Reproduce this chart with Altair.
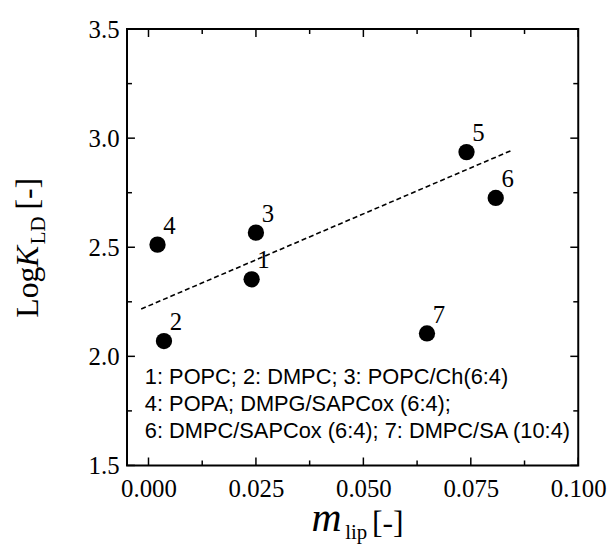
import altair as alt
import pandas as pd

# ---- data ----
point_ids = ["1", "2", "3", "4", "5", "6", "7"]
m_lip = [0.0240, 0.0036, 0.0250, 0.0021, 0.0740, 0.0808, 0.0648]
log_kld = [2.353, 2.070, 2.567, 2.512, 2.936, 2.726, 2.105]

fit_x = [-0.0017, 0.0845]
fit_y = [2.217, 2.944]

legend_lines = [
    "1: POPC; 2: DMPC; 3: POPC/Ch(6:4)",
    "4: POPA; DMPG/SAPCox (6:4);",
    "6: DMPC/SAPCox (6:4); 7: DMPC/SA (10:4)",
]

x_major = [0.0, 0.025, 0.05, 0.075, 0.1]
x_minor = [0.0125, 0.0375, 0.0625, 0.0875]
y_major = [1.5, 2.0, 2.5, 3.0, 3.5]
y_minor = [1.75, 2.25, 2.75, 3.25]

# ---- layout ----
W, H = 455, 440
SERIF = "Liberation Serif"
SANS = "Liberation Sans"

xs = alt.Scale(domain=[-0.005, 0.1], nice=False, zero=False)
ys = alt.Scale(domain=[1.5, 3.5], nice=False, zero=False)

pts = pd.DataFrame({"id": point_ids, "x": m_lip, "y": log_kld})
fit = pd.DataFrame({"x": fit_x, "y": fit_y})

x_axis = alt.Axis(values=x_major, format=".3f", title=None, ticks=False, domain=False,
                  grid=False, labelFont=SERIF, labelFontSize=25, labelPadding=11,
                  labelColor="black", labelFlush=False, labelOverlap=False)
y_axis = alt.Axis(values=y_major, format=".1f", title=None, ticks=False, domain=False,
                  grid=False, labelFont=SERIF, labelFontSize=25, labelPadding=8,
                  labelColor="black", labelFlush=False, labelOverlap=False)


def X(field):
    return alt.X(field, scale=xs, axis=x_axis)


def Y(field):
    return alt.Y(field, scale=ys, axis=y_axis)


points = alt.Chart(pts).mark_circle(size=270, color="black", opacity=1).encode(
    x=X("x:Q"), y=Y("y:Q"),
)

point_labels = alt.Chart(pts).mark_text(
    font=SERIF, fontSize=25, color="black", dx=12, dy=-19, align="center", baseline="middle"
).encode(x=X("x:Q"), y=Y("y:Q"), text="id:N")

fit_line = alt.Chart(fit).mark_line(color="black", strokeWidth=1.6, strokeDash=[5, 3]).encode(
    x=X("x:Q"), y=Y("y:Q")
)


def xticks(vals, length):
    d = pd.DataFrame({"x": vals})
    bottom = alt.Chart(d).mark_rule(color="black", strokeWidth=1.5).encode(
        x=X("x:Q"), y=alt.value(H), y2=alt.value(H - length))
    top = alt.Chart(d).mark_rule(color="black", strokeWidth=1.5).encode(
        x=X("x:Q"), y=alt.value(0), y2=alt.value(length))
    return [bottom, top]


def yticks(vals, length):
    d = pd.DataFrame({"y": vals})
    left = alt.Chart(d).mark_rule(color="black", strokeWidth=1.5).encode(
        y=Y("y:Q"), x=alt.value(0), x2=alt.value(length))
    right = alt.Chart(d).mark_rule(color="black", strokeWidth=1.5).encode(
        y=Y("y:Q"), x=alt.value(W), x2=alt.value(W - length))
    return [left, right]


one = pd.DataFrame({"a": [0]})


def label(text, x, y, size, font=SERIF, style="normal", angle=0, align="left"):
    return alt.Chart(one).mark_text(
        text=text, font=font, fontSize=size, fontStyle=style, color="black",
        angle=angle, align=align, baseline="alphabetic"
    ).encode(x=alt.value(x), y=alt.value(y))


legend = [
    alt.Chart(pd.DataFrame({"t": [line]})).mark_text(
        font=SANS, fontSize=22, color="black", align="left", baseline="middle"
    ).encode(x=alt.value(18), y=alt.value(351 + 27 * i), text="t:N")
    for i, line in enumerate(legend_lines)
]

# axis titles built from pieces (italic symbol + subscript)
titles = [
    label("Log", -90, 291, 32, angle=270),
    label("K", -90, 240, 32, style="italic", angle=270),
    label("LD", -83, 217, 21, angle=270),
    label("[-]", -90, 182, 32, angle=270),
    label("m", 186, 506, 42, style="italic"),
    label("lip", 220, 514, 21),
    label("[-]", 247, 508, 32),
]

layers = ([points, fit_line, point_labels]
          + xticks(x_major, 8) + xticks(x_minor, 5)
          + yticks(y_major, 8) + yticks(y_minor, 5)
          + legend + titles)

chart = alt.layer(*layers).properties(
    width=W, height=H,
    background="white",
    autosize=alt.AutoSizeParams(type="none"),
    padding={"left": 120, "top": 19, "right": 30, "bottom": 80},
).configure_view(
    stroke="black", strokeWidth=2
).configure_axis(
    labelFont=SERIF, labelFontSize=25, labelColor="black", ticks=False, domain=False, grid=False
)

chart.save("out.html", embed_options={"renderer": "svg", "actions": False})
